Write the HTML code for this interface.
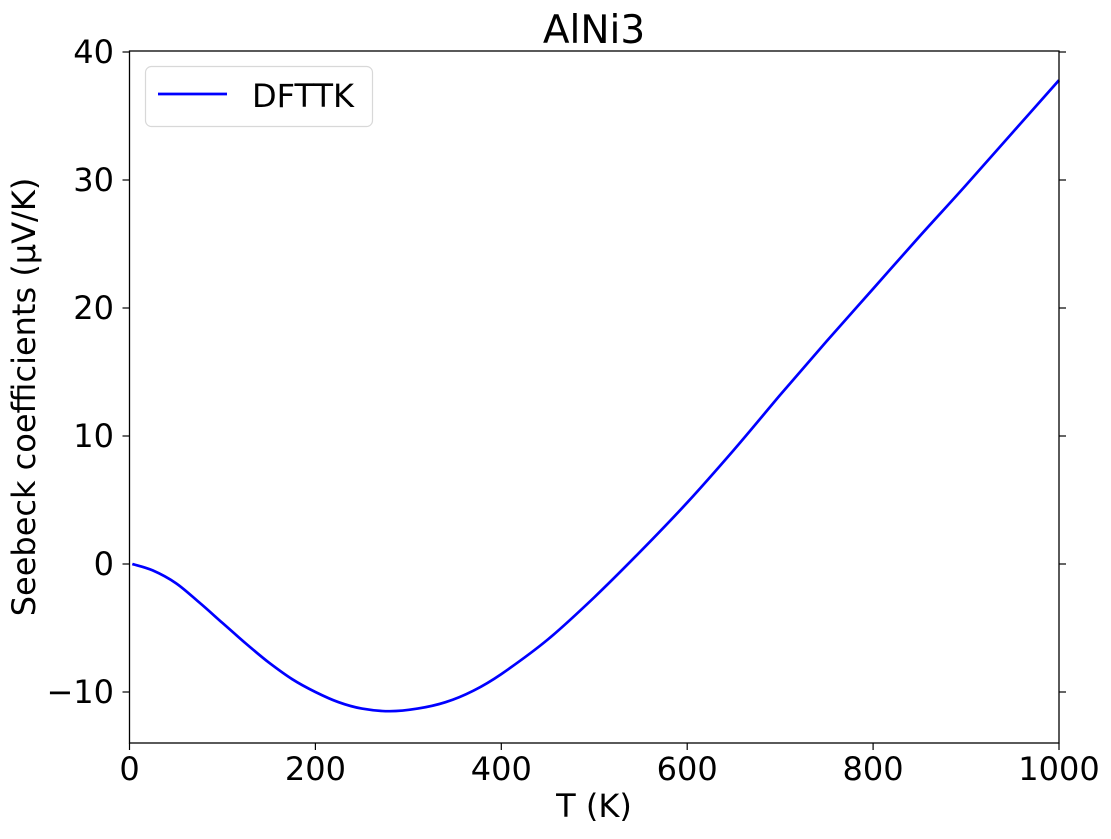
<!DOCTYPE html>
<html><head><meta charset="utf-8"><style>
body{margin:0;background:#fff;}
svg text{font-family:"DejaVu Sans","Liberation Sans",sans-serif;fill:#000;}
</style></head><body>
<svg id="chart" width="1111" height="834" xmlns="http://www.w3.org/2000/svg">
<text x="594" y="43" font-size="39" text-anchor="middle">AlNi3</text>
<g id="axes"></g>
<path id="series" fill="none" stroke="#0000ff" stroke-width="2.7"/>
<rect x="129.5" y="51" width="929.5" height="692" fill="none" stroke="#000" stroke-width="1.3"/>
<g>
<rect x="145.5" y="66.5" width="227" height="60" rx="6" fill="#fff" stroke="#d8d8d8" stroke-width="1.2"/>
<line x1="158" y1="94" x2="227" y2="94" stroke="#0000ff" stroke-width="2.7"/>
<text x="252" y="107" font-size="32">DFTTK</text>
</g>
<text x="594" y="817" font-size="32" text-anchor="middle">T (K)</text>
<text transform="translate(35,397) rotate(-90)" font-size="32" text-anchor="middle">Seebeck coefficients (µV/K)</text>
</svg>
<script>
const temps=[3,25,50,75,100,125,150,175,200,225,250,280,310,340,370,400,450,500,550,600,650,700,750,800,850,900,950,1000];
const seebeck=[0,-0.5,-1.5,-3.0,-4.6,-6.2,-7.7,-9.0,-10.0,-10.8,-11.3,-11.5,-11.3,-10.8,-9.9,-8.6,-5.9,-2.6,1.0,4.8,8.9,13.2,17.4,21.5,25.6,29.6,33.7,37.8];
const xTicks=[0,200,400,600,800,1000];
const yTicks=[-10,0,10,20,30,40];
const X=t=>129.5+t*0.9295;
const Y=v=>564-v*12.8;
const svg=document.getElementById('axes');
const NS='http://www.w3.org/2000/svg';
function mk(tag,attrs){const e=document.createElementNS(NS,tag);for(const k in attrs)e.setAttribute(k,attrs[k]);svg.appendChild(e);return e;}
xTicks.forEach(t=>{
 const l=mk('line',{x1:X(t),x2:X(t),y1:743,y2:750,stroke:'#000','stroke-width':1.2});
 
 
 const tx=mk('text',{x:X(t),y:780,'font-size':32,'text-anchor':'middle'});
 tx.textContent=t;
 
 
});
yTicks.forEach(v=>{
 const l=mk('line',{x1:122.5,x2:129.5,y1:Y(v),y2:Y(v),stroke:'#000','stroke-width':1.2});
 
 
 const r=mk('line',{x1:1059,x2:1066,y1:Y(v),y2:Y(v),stroke:'#000','stroke-width':1.2});
 
 
 const tx=mk('text',{x:114,y:Y(v)+11,'font-size':32,'text-anchor':'end'});
 tx.textContent=v<0?'\u2212'+(-v):v;
 
 
});
const P=temps.map((t,i)=>[X(t),Y(seebeck[i])]);
let d='M'+P[0][0].toFixed(1)+','+P[0][1].toFixed(1);
for(let i=0;i<P.length-1;i++){
 const p0=P[Math.max(0,i-1)],p1=P[i],p2=P[i+1],p3=P[Math.min(P.length-1,i+2)];
 const c1=[p1[0]+(p2[0]-p0[0])/6,p1[1]+(p2[1]-p0[1])/6];
 const c2=[p2[0]-(p3[0]-p1[0])/6,p2[1]-(p3[1]-p1[1])/6];
 d+=' C'+c1.map(v=>v.toFixed(1)).join(',')+' '+c2.map(v=>v.toFixed(1)).join(',')+' '+p2.map(v=>v.toFixed(1)).join(',');
}
document.getElementById('series').setAttribute('d',d);
</script>
</body></html>
